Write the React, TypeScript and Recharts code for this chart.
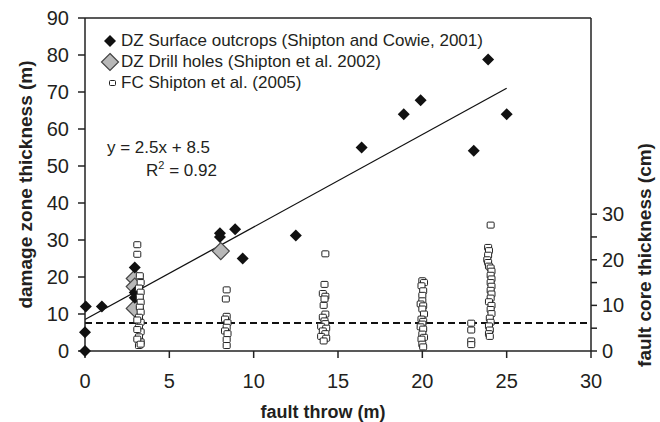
import React from "react";
import { Legend, ReferenceLine, Scatter, ScatterChart, XAxis, YAxis } from "recharts";

const FONT = "'Liberation Sans', Arial, Helvetica, sans-serif";
const INK = "#231f20";

// DZ surface outcrops (fault throw m, damage zone thickness m)
const surfaceThrow = [0, 0, 0.05, 1.0, 2.95, 2.95, 2.95, 8.0, 8.0, 8.9, 9.35, 12.5, 16.4, 18.9, 19.9, 23.05, 23.9, 25.0];
const surfaceThick = [0, 5.1, 12, 12, 22.6, 15.8, 14.4, 31.8, 30.8, 32.9, 25.0, 31.2, 55.0, 64.0, 67.8, 54.1, 78.8, 64.0];

// DZ drill holes
const drillThrow = [2.95, 2.95, 2.95, 8.05];
const drillThick = [19.6, 17.4, 11.5, 27.0];

// FC (fault core thickness, cm, right axis)
const fcThrow = [
  3.1, 3.1, 3.25, 3.3, 3.2, 3.3, 3.25, 3.3, 3.25, 3.3, 3.2, 3.3, 3.2, 3.3, 3.2, 3.3, 3.2, 3.1, 3.1, 3.1, 3.3,
  8.4, 8.35, 8.4, 8.3, 8.45, 8.4, 8.3, 8.45, 8.4, 8.4,
  14.25, 14.2, 14.1, 14.25, 14.2, 14.15, 14.25, 14.1, 14.2, 14.25, 14.0, 14.3, 14.1, 14.25, 14.0, 14.3, 14.15,
  20.0, 20.1, 19.95, 20.05, 20.0, 20.0, 19.9, 20.05, 20.0, 20.1, 19.95, 20.05, 20.0, 19.9, 20.05, 20.0, 20.1, 19.95, 20.0, 20.05,
  22.9, 22.9, 22.9, 22.9,
  24.05, 23.9, 23.95, 23.9, 23.85, 23.9, 23.95, 24.05, 24.1, 24.05, 24.1, 24.05, 24.1, 24.05, 24.1, 24.05, 23.95, 24.1, 24.05, 24.1, 24.0, 24.05, 23.95, 24.0, 23.95, 24.0,
];
const fcThick = [
  23.3, 21.2, 16.5, 15.0, 13.8, 12.9, 11.8, 10.7, 9.6, 8.5, 7.4, 6.3, 5.2, 4.2, 3.1, 2.0, 1.2, 6.8, 4.7, 2.6, 1.5,
  13.4, 11.4, 7.6, 7.0, 6.2, 5.2, 4.4, 3.8, 2.5, 1.2,
  21.3, 14.6, 12.6, 12.0, 11.4, 10.0, 8.1, 7.4, 6.6, 6.0, 5.4, 5.0, 4.4, 3.8, 3.2, 2.8, 2.2,
  15.4, 15.0, 14.3, 13.2, 12.2, 11.0, 10.3, 9.9, 9.2, 8.1, 7.0, 6.5, 5.9, 5.3, 4.8, 3.7, 3.0, 2.6, 1.5, 0.9,
  6.1, 4.6, 2.2, 1.4,
  27.6, 22.7, 22.0, 21.0, 20.0, 19.4, 18.6, 18.2, 17.5, 16.6, 15.8, 15.0, 14.2, 13.3, 12.5, 11.6, 10.8, 10.0, 9.1, 8.2, 7.2, 6.3, 5.5, 4.6, 3.8, 3.2,
];

const xTicks = [0, 5, 10, 15, 20, 25, 30];
const leftTicks = [0, 10, 20, 30, 40, 50, 60, 70, 80, 90];
const rightTicks = [0, 5, 10, 15, 20, 25, 30];

const fitSlope = 2.5;
const fitIntercept = 8.5;
const fitRange = [0, 25];
const dashedLevel = 7.6;

const legendLabels = [
  "DZ Surface outcrops (Shipton and Cowie, 2001)",
  "DZ Drill holes (Shipton et al. 2002)",
  "FC Shipton et al. (2005)",
];

const zip = (xs: number[], ys: number[]) => xs.map((x, i) => ({ x, y: ys[i] }));
const surfaceData = zip(surfaceThrow, surfaceThick);
const drillData = zip(drillThrow, drillThick);
const fcData = zip(fcThrow, fcThick);

const BlackDiamond = ({ cx, cy }: any) => (
  <path d={`M${cx},${cy - 6}L${cx + 6},${cy}L${cx},${cy + 6}L${cx - 6},${cy}Z`} fill="#111" />
);
const GrayDiamond = ({ cx, cy }: any) => (
  <path d={`M${cx},${cy - 8.5}L${cx + 8.5},${cy}L${cx},${cy + 8.5}L${cx - 8.5},${cy}Z`} fill="#b8b8b8" stroke="#444" strokeWidth={1.2} />
);
const OpenSquare = ({ cx, cy }: any) => (
  <rect x={cx - 3.5} y={cy - 3} width={7} height={6} rx={1} fill="#fff" stroke="#222" strokeWidth={1} />
);

const legendMarkers = [
  <path key="a" d="M10,4L16,10L10,16L4,10Z" fill="#111" />,
  <path key="b" d="M10,1.5L18.5,10L10,18.5L1.5,10Z" fill="#b8b8b8" stroke="#444" strokeWidth={1.2} />,
  <rect key="c" x={9.5} y={7.5} width={6} height={5} rx={1} fill="#fff" stroke="#222" strokeWidth={1} />,
];

const LegendBox = () => (
  <div style={{ fontFamily: FONT, fontSize: 17, color: INK }}>
    {legendLabels.map((label, i) => (
      <div key={label} style={{ display: "flex", alignItems: "center", height: 21, whiteSpace: "nowrap" }}>
        <svg width={20} height={20} style={{ marginRight: 1 }}>
          {legendMarkers[i]}
        </svg>
        <span>{label}</span>
      </div>
    ))}
  </div>
);

export default function App() {
  const tickStyle = { fontFamily: FONT, fontSize: 20, fill: INK };
  return (
    <div style={{ position: "absolute", left: 0, top: 0, width: 660, height: 422, background: "#fff" }}>
      <ScatterChart width={660} height={422} margin={{ top: 18, right: 29, bottom: 31, left: 25 }}>
        <XAxis
          type="number"
          dataKey="x"
          domain={[0, 30]}
          ticks={xTicks}
          height={40}
          tickSize={7}
          tickMargin={16}
          tick={tickStyle}
          stroke="#222"
          strokeWidth={1.5}
        />
        <YAxis
          yAxisId="left"
          type="number"
          dataKey="y"
          domain={[0, 90]}
          ticks={leftTicks}
          width={60}
          tickSize={7}
          tickMargin={9}
          tick={tickStyle}
          stroke="#222"
          strokeWidth={1.5}
        />
        <YAxis
          yAxisId="right"
          orientation="right"
          type="number"
          dataKey="y"
          domain={[0, 73]}
          ticks={rightTicks}
          width={40}
          tickSize={6}
          tickMargin={5}
          tick={tickStyle}
          tickFormatter={(v: number) => (v % 10 === 0 ? String(v) : "")}
          stroke="#222"
          strokeWidth={1.5}
        />
        <ReferenceLine yAxisId="left" y={90} stroke="#222" strokeWidth={1.5} />
        <ReferenceLine yAxisId="left" y={dashedLevel} stroke="#111" strokeWidth={2} strokeDasharray="7 4" />
        <ReferenceLine
          yAxisId="left"
          segment={fitRange.map((x) => ({ x, y: fitSlope * x + fitIntercept }))}
          stroke="#111"
          strokeWidth={1.3}
        />
        <Scatter yAxisId="left" data={drillData} shape={GrayDiamond} isAnimationActive={false} />
        <Scatter yAxisId="left" data={surfaceData} shape={BlackDiamond} isAnimationActive={false} />
        <Scatter yAxisId="right" data={fcData} shape={OpenSquare} isAnimationActive={false} />
        <Legend
          layout="vertical"
          align="center"
          verticalAlign="middle"
          content={LegendBox}
          wrapperStyle={{ left: 100, top: 30, width: "auto", height: "auto" }}
        />
      </ScatterChart>
      <svg width={660} height={422} style={{ position: "absolute", left: 0, top: 0, pointerEvents: "none" }}>
        <g fontFamily={FONT} fill={INK}>
          <text x={107} y={153} fontSize={17}>y = 2.5x + 8.5</text>
          <text x={146} y={176} fontSize={17}>
            R<tspan fontSize={11} dy={-7}>2</tspan>
            <tspan dy={7}> = 0.92</tspan>
          </text>
          <text x={323} y={418} fontSize={18} fontWeight="bold" textAnchor="middle">fault throw (m)</text>
          <text x={32} y={184.5} fontSize={19} fontWeight="bold" textAnchor="middle" transform="rotate(-90 32 184.5)">
            damage zone thickness (m)
          </text>
          <text x={651} y={255} fontSize={19} fontWeight="bold" textAnchor="middle" transform="rotate(-90 651 255)">
            fault core thickness (cm)
          </text>
        </g>
      </svg>
    </div>
  );
}
